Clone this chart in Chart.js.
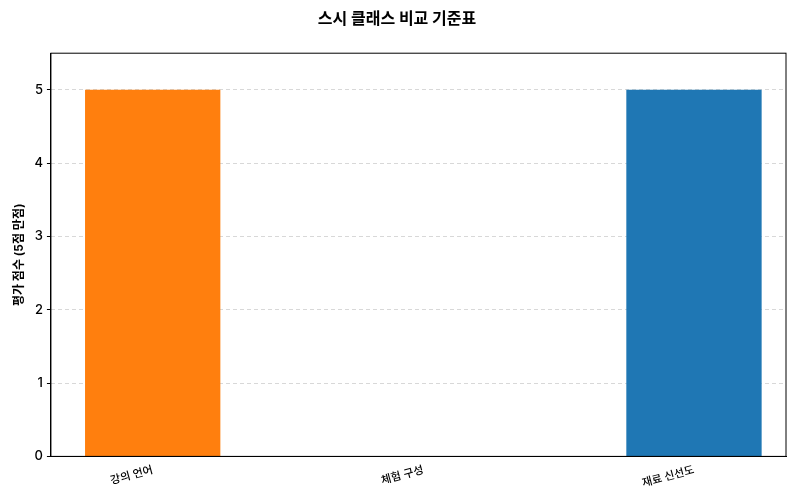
<!DOCTYPE html>
<html><head><meta charset="utf-8">
<script src="https://cdn.jsdelivr.net/npm/chart.js@4"></script>
<style>body{margin:0;background:#fff}#w{width:800px;height:500px}</style></head>
<body><div id="w"><canvas id="c"></canvas></div>
<script>
const categories = ["강의 언어", "체험 구성", "재료 신선도"];
const scores = [5, 0, 5];
const barColors = ["#ff7f0e", "#1f77b4", "#1f77b4"];
const yTicks = [0, 1, 2, 3, 4, 5];
const FONT = "Inter, 'Noto Sans CJK KR', sans-serif";
Chart.defaults.font.family = FONT;
Chart.defaults.color = "#000";
const border = {id:'border', afterDraw(ch){const a=ch.chartArea,c=ch.ctx;c.save();c.strokeStyle='#000';c.lineWidth=1;c.strokeRect(a.left,a.top,a.right-a.left,a.bottom-a.top);c.restore();}};
new Chart(document.getElementById('c'), {
  type: 'bar',
  data: { datasets: [{ data: scores.map((v,i)=>({x:i,y:v})), backgroundColor: barColors, barPercentage: 0.5, categoryPercentage: 1 }] },
  options: {
    responsive: true, maintainAspectRatio: false, animation: false,
    layout: { padding: { left: 8, right: 14, top: 0, bottom: 8 } },
    plugins: { legend: { display: false }, tooltip: { enabled: false },
      title: { display: true, text: "스시 클래스 비교 기준표", font: { size: 16, weight: 'bold' }, padding: { top: 10, bottom: 24 } } },
    scales: {
      x: { type: 'linear', offset: false, min: -0.376, max: 2.34, afterBuildTicks: s => { s.ticks = categories.map((_, i) => ({ value: i })); },
        ticks: { callback: (v) => categories[v] ?? '', minRotation: 15, maxRotation: 15, font: { size: 11, weight: 500 }, padding: 2 },
        grid: { display: false, drawTicks: true, tickLength: 5 }, border: { color: '#000' } },
      y: { min: 0, max: 5.5, afterBuildTicks: s => { s.ticks = yTicks.map(v => ({ value: v })); },
        ticks: { font: { size: 13, weight: 500 }, padding: 4 },
        grid: { color: '#d8d8d8', tickColor: '#000', tickLength: 4 },
        border: { color: '#000', dash: [4, 3] },
        title: { display: true, text: "평가 점수 (5점 만점)", font: { size: 12, weight: 'bold' } } }
    }
  },
  plugins: [border]
});
</script></body></html>
